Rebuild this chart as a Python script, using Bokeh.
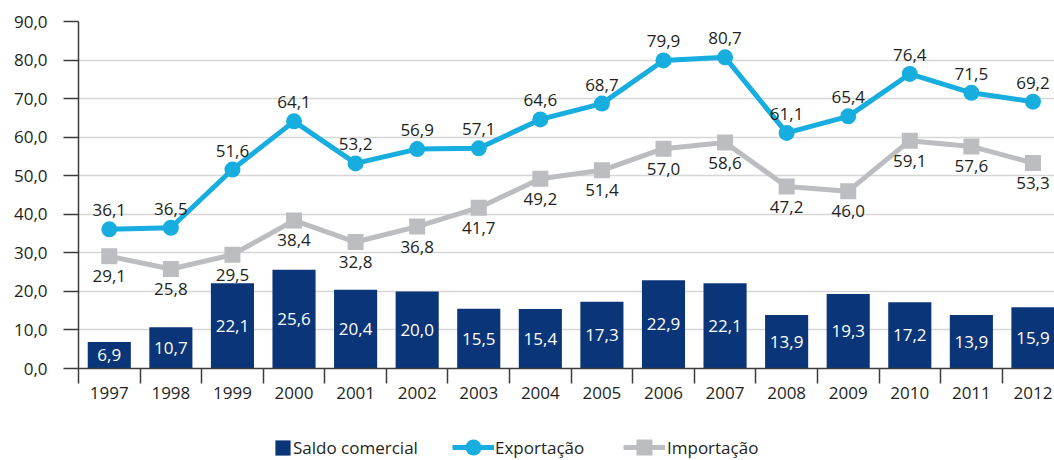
from bokeh.plotting import figure
from bokeh.layouts import column
from bokeh.models import Range1d, FixedTicker, Legend, LegendItem, ColumnDataSource
from bokeh.core.properties import value
from bokeh.embed import file_html
from bokeh.resources import INLINE

years = [1997, 1998, 1999, 2000, 2001, 2002, 2003, 2004,
         2005, 2006, 2007, 2008, 2009, 2010, 2011, 2012]
saldo = [6.9, 10.7, 22.1, 25.6, 20.4, 20.0, 15.5, 15.4,
         17.3, 22.9, 22.1, 13.9, 19.3, 17.2, 13.9, 15.9]
exportacao = [36.1, 36.5, 51.6, 64.1, 53.2, 56.9, 57.1, 64.6,
              68.7, 79.9, 80.7, 61.1, 65.4, 76.4, 71.5, 69.2]
importacao = [29.1, 25.8, 29.5, 38.4, 32.8, 36.8, 41.7, 49.2,
              51.4, 57.0, 58.6, 47.2, 46.0, 59.1, 57.6, 53.3]
y_ticks = [0, 10, 20, 30, 40, 50, 60, 70, 80, 90]
series_names = ["Saldo comercial", "Exportação", "Importação"]

NAVY = "#0a3679"
CYAN = "#17addf"
GRAY = "#bcbdc0"
TXT = "#231f20"
AX = "#3c3c3c"
FONT = "Open Sans"
FS = "17px"


def fmt(v):
    return f"{v:.1f}".replace(".", ",")


idx = list(range(len(years)))
src = ColumnDataSource(dict(
    x=idx,
    saldo=saldo,
    saldo_mid=[v / 2 for v in saldo],
    exp=exportacao,
    imp=importacao,
    saldo_lbl=[fmt(v) for v in saldo],
    exp_lbl=[fmt(v) for v in exportacao],
    imp_lbl=[fmt(v) for v in importacao],
))

p = figure(width=1054, height=410, output_backend="svg", toolbar_location=None,
           x_range=Range1d(-0.5, 15.35), y_range=Range1d(0, 90),
           min_border_left=78, min_border_right=0, min_border_top=21,
           min_border_bottom=42)
p.outline_line_color = None
p.background_fill_color = "white"
p.border_fill_color = "white"

# grid
p.xgrid.visible = False
p.ygrid.ticker = FixedTicker(ticks=y_ticks)
p.ygrid.grid_line_color = "#d6d6d6"
p.ygrid.grid_line_width = 1.5

# y axis
p.yaxis.ticker = FixedTicker(ticks=y_ticks)
p.yaxis.major_label_overrides = {t: fmt(t) for t in y_ticks}
p.yaxis.axis_line_color = AX
p.yaxis.axis_line_width = 1.5
p.yaxis.major_tick_line_color = AX
p.yaxis.major_tick_line_width = 1.5
p.yaxis.major_tick_out = 15
p.yaxis.major_tick_in = 0
p.yaxis.minor_tick_out = 0
p.yaxis.minor_tick_in = 0
p.yaxis.major_label_standoff = 16
p.yaxis.major_label_text_font = FONT
p.yaxis.major_label_text_font_size = FS
p.yaxis.major_label_text_color = TXT

# x axis
p.xaxis.ticker = FixedTicker(ticks=idx, minor_ticks=[i - 0.5 for i in range(len(years) + 1)])
p.xaxis.major_label_overrides = {i: str(y) for i, y in zip(idx, years)}
p.xaxis.axis_line_color = AX
p.xaxis.axis_line_width = 1.5
p.xaxis.major_tick_out = 0
p.xaxis.major_tick_in = 0
p.xaxis.minor_tick_out = 15
p.xaxis.minor_tick_in = 0
p.xaxis.minor_tick_line_color = AX
p.xaxis.minor_tick_line_width = 1.5
p.xaxis.major_label_standoff = 3
p.xaxis.major_label_text_font = FONT
p.xaxis.major_label_text_font_size = FS
p.xaxis.major_label_text_color = TXT

# glyphs
p.vbar(x="x", top="saldo", width=0.70, fill_color=NAVY, line_color=None, source=src)
p.line("x", "imp", line_width=5, line_color=GRAY, source=src)
p.scatter("x", "imp", marker="square", size=16, fill_color=GRAY, line_color=None, source=src)
p.line("x", "exp", line_width=5, line_color=CYAN, source=src)
p.scatter("x", "exp", marker="circle", size=16, fill_color=CYAN, line_color=None, source=src)

common = dict(text_font=value(FONT), text_font_size=FS, text_align="center",
              text_baseline="middle", source=src)
p.text("x", "saldo_mid", text="saldo_lbl", text_color="white", **common)
p.text("x", "exp", text="exp_lbl", y_offset=-19, text_color=TXT, **common)
p.text("x", "imp", text="imp_lbl", y_offset=20, text_color=TXT, **common)

# legend strip (its key renderers reuse the data but lie outside its ranges)
p2 = figure(width=1054, height=50, output_backend="svg", toolbar_location=None,
            x_range=Range1d(-200, -199), y_range=Range1d(0, 1),
            min_border=0, min_border_left=0, min_border_right=0,
            min_border_top=0, min_border_bottom=0)
p2.axis.visible = False
p2.grid.visible = False
p2.outline_line_color = None
p2.background_fill_color = "white"
p2.border_fill_color = "white"

k_bar = p2.vbar(x="x", top="saldo", width=0.7, fill_color=NAVY, line_color=None, source=src)
k_exp_l = p2.line("x", "exp", line_width=5, line_color=CYAN, source=src)
k_exp_m = p2.scatter("x", "exp", marker="circle", fill_color=CYAN, line_color=None, source=src)
k_imp_l = p2.line("x", "imp", line_width=5, line_color=GRAY, source=src)
k_imp_m = p2.scatter("x", "imp", marker="square", fill_color=GRAY, line_color=None, source=src)


def add_legend(label, renderers, loc, gw, gh, standoff):
    leg = Legend(items=[LegendItem(label=label, renderers=renderers)],
                 location=loc, orientation="horizontal",
                 glyph_width=gw, glyph_height=gh, label_height=gh,
                 label_standoff=standoff, spacing=0, padding=0, margin=0,
                 border_line_color=None, background_fill_alpha=0,
                 label_text_font=FONT, label_text_font_size=FS,
                 label_text_color=TXT)
    p2.add_layout(leg, "center")


add_legend(series_names[0], [k_bar], (195, 1), 19, 19, 1)
add_legend(series_names[1], [k_exp_l, k_exp_m], (374, -7), 42, 40, 1)
add_legend(series_names[2], [k_imp_l, k_imp_m], (545, -7), 42, 40, 2)

layout = column(p, p2, spacing=0)
open("out.html", "w").write(file_html(layout, INLINE))
